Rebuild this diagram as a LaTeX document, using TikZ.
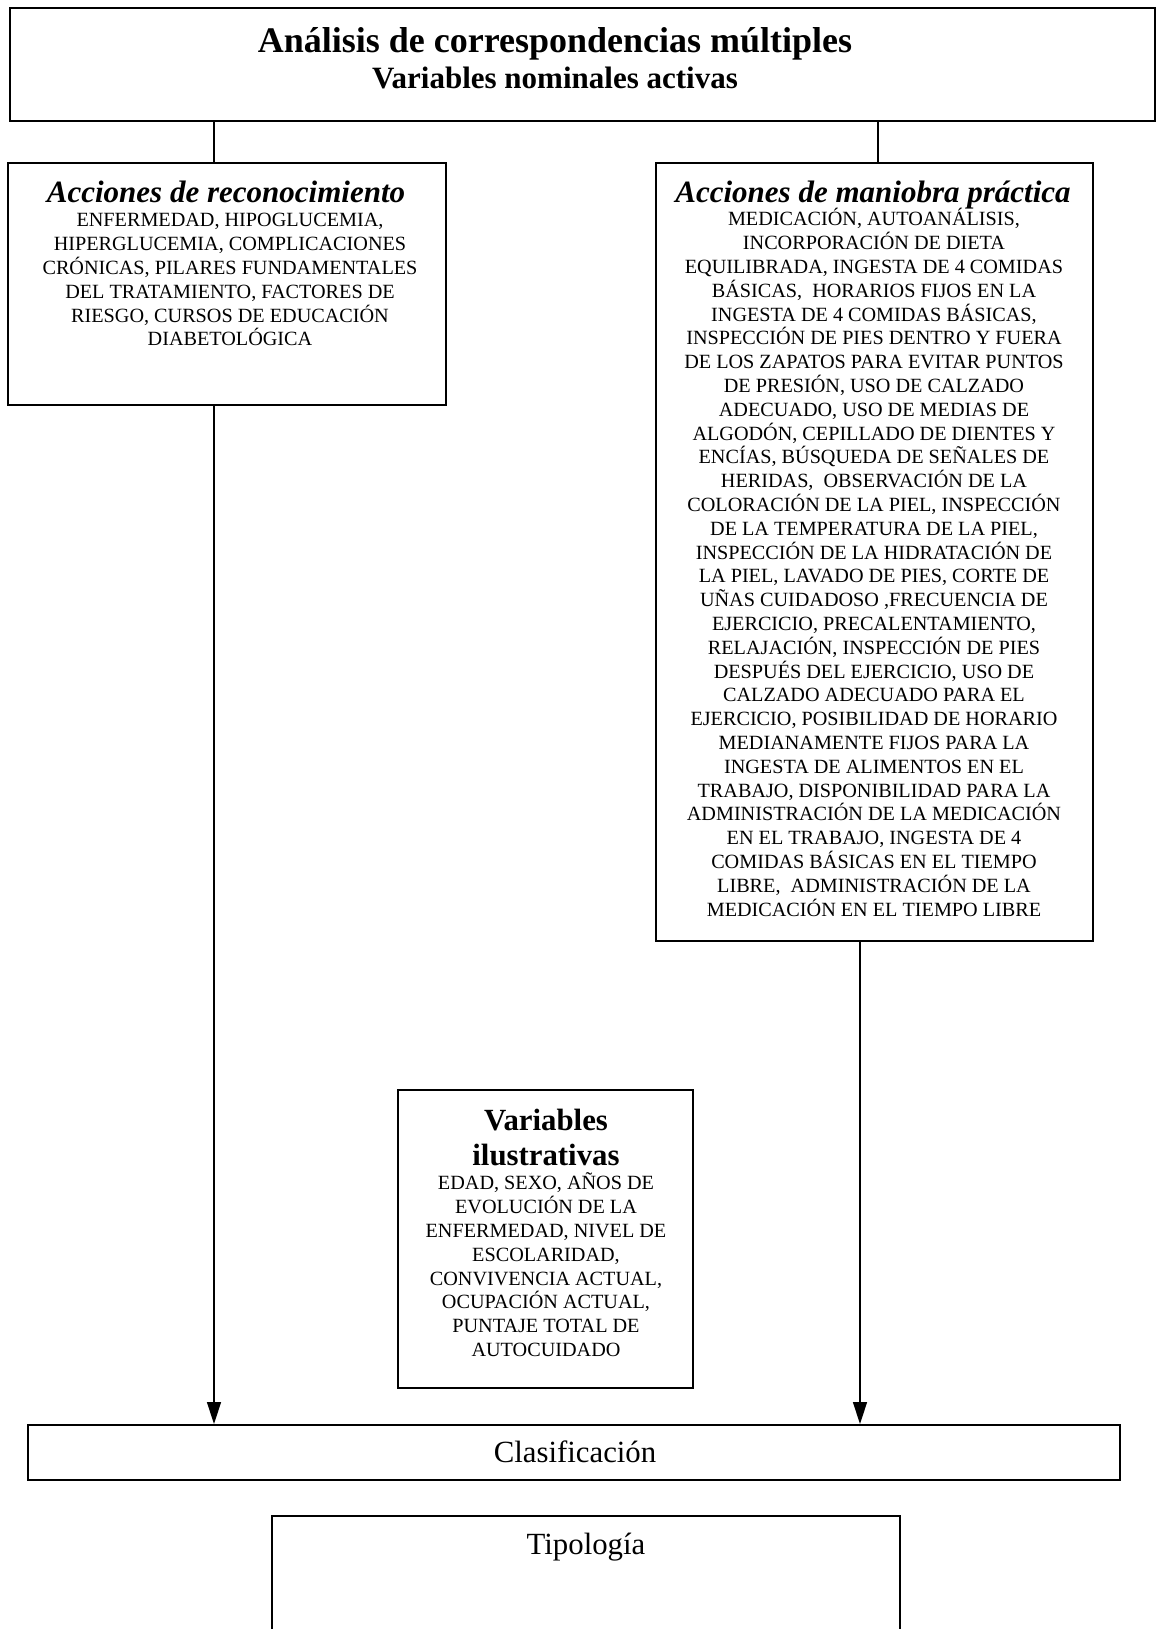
\documentclass[tikz,border=0pt]{standalone}
\usepackage{fontspec}
\setmainfont{Liberation Serif}
\usetikzlibrary{arrows.meta, positioning}
\newcommand{\topstrut}{\rule{0pt}{9pt}}

\tikzset{
  box/.style={draw, line width=1pt, inner sep=0pt},
  txt/.style={inner sep=0pt, align=center},
  bodytext/.style={txt, anchor=north, font=\fontsize{10.1}{11.9}\selectfont},
  headtext/.style={txt, anchor=base, font=\bfseries\itshape\fontsize{15.5}{18}\selectfont},
  boldhead/.style={txt, anchor=base, font=\bfseries\fontsize{15.4}{17.5}\selectfont},
  plainhead/.style={txt, anchor=base, font=\fontsize{15.4}{17.5}\selectfont},
  link/.style={line width=0.7pt},
  flow/.style={line width=0.7pt, -{Triangle[length=11pt, width=7pt]}}
}

\begin{document}
\begin{tikzpicture}[x=0.5pt, y=-0.5pt]
    \useasboundingbox (0,0) rectangle (1165,1629);
    \clip (0,0) rectangle (1165,1629);
    % Boxes
    \node[box, minimum width=572.5pt, minimum height=56.5pt] (acm) at (582.5,64.5) {};
    \node[box, minimum width=219pt, minimum height=121pt] (recon) at (227,284) {};
    \node[box, minimum width=218.5pt, minimum height=389pt] (practica) at (874.5,552) {};
    \node[box, minimum width=147.5pt, minimum height=149pt] (ilustr) at (545.5,1239) {};
    \node[box, minimum width=546pt, minimum height=27.5pt] (clasif) at (574,1452.5) {};
    \node[box, minimum width=314pt, minimum height=72pt] (tipo) at (586,1588) {};

    % Texts
    \node[txt, anchor=base, font=\bfseries\fontsize{18}{20}\selectfont] (acmtitle) at (555,52) {Análisis de correspondencias múltiples};
    \node[txt, anchor=base, font=\bfseries\fontsize{15.5}{17}\selectfont] (acmsub) at (555,88) {Variables nominales activas};

    \node[headtext] (reconhead) at (226,202) {Acciones de reconocimiento};
    \node[bodytext] (reconbody) at (230,208.5) {\topstrut ENFERMEDAD, HIPOGLUCEMIA,\\
      HIPERGLUCEMIA, COMPLICACIONES\\ CRÓNICAS, PILARES FUNDAMENTALES\\
      DEL TRATAMIENTO, FACTORES DE\\ RIESGO, CURSOS DE EDUCACIÓN\\ DIABETOLÓGICA};

    \node[headtext] (practhead) at (873,202) {Acciones de maniobra práctica};
    \node[bodytext] (practbody) at (874,207.5) {\topstrut MEDICACIÓN, AUTOANÁLISIS,\\
      INCORPORACIÓN DE DIETA\\ EQUILIBRADA, INGESTA DE 4 COMIDAS\\
      BÁSICAS,\ \ HORARIOS FIJOS EN LA\\ INGESTA DE 4 COMIDAS BÁSICAS,\\
      INSPECCIÓN DE PIES DENTRO Y FUERA\\ DE LOS ZAPATOS PARA EVITAR PUNTOS\\
      DE PRESIÓN, USO DE CALZADO\\ ADECUADO, USO DE MEDIAS DE\\
      ALGODÓN, CEPILLADO DE DIENTES Y\\ ENCÍAS, BÚSQUEDA DE SEÑALES DE\\
      HERIDAS,\ \ OBSERVACIÓN DE LA\\ COLORACIÓN DE LA PIEL, INSPECCIÓN\\
      DE LA TEMPERATURA DE LA PIEL,\\ INSPECCIÓN DE LA HIDRATACIÓN DE\\
      LA PIEL, LAVADO DE PIES, CORTE DE\\ UÑAS CUIDADOSO ,FRECUENCIA DE\\
      EJERCICIO, PRECALENTAMIENTO,\\ RELAJACIÓN, INSPECCIÓN DE PIES\\
      DESPUÉS DEL EJERCICIO, USO DE\\ CALZADO ADECUADO PARA EL\\
      EJERCICIO, POSIBILIDAD DE HORARIO\\ MEDIANAMENTE FIJOS PARA LA\\
      INGESTA DE ALIMENTOS EN EL\\ TRABAJO, DISPONIBILIDAD PARA LA\\
      ADMINISTRACIÓN DE LA MEDICACIÓN\\ EN EL TRABAJO, INGESTA DE 4\\
      COMIDAS BÁSICAS EN EL TIEMPO\\ LIBRE,\ \ ADMINISTRACIÓN DE LA\\
      MEDICACIÓN EN EL TIEMPO LIBRE};

    \node[boldhead] (ilustrhead) at (546,1130) {Variables};
    \node[boldhead] (ilustrsub) at (546,1165) {ilustrativas};
    \node[bodytext] (ilustrbody) at (546,1171.5) {\topstrut EDAD, SEXO, AÑOS DE\\
      EVOLUCIÓN DE LA\\ ENFERMEDAD, NIVEL DE\\ ESCOLARIDAD,\\
      CONVIVENCIA ACTUAL,\\ OCUPACIÓN ACTUAL,\\ PUNTAJE TOTAL DE\\ AUTOCUIDADO};

    \node[plainhead] (clasiftext) at (575,1462) {Clasificación};
    \node[plainhead] (tipotext) at (586,1554) {Tipología};

    % Connectors
    \coordinate (leftx) at (214,0);
    \coordinate (rightx) at (878,0);
    \coordinate (downx) at (860,0);
    \draw[link] (acm.south -| leftx) -- (recon.north -| leftx);
    \draw[link] (acm.south -| rightx) -- (practica.north -| rightx);
    \draw[flow] (recon.south -| leftx) -- (clasif.north -| leftx);
    \draw[flow] (practica.south -| downx) -- (clasif.north -| downx);
\end{tikzpicture}
\end{document}
